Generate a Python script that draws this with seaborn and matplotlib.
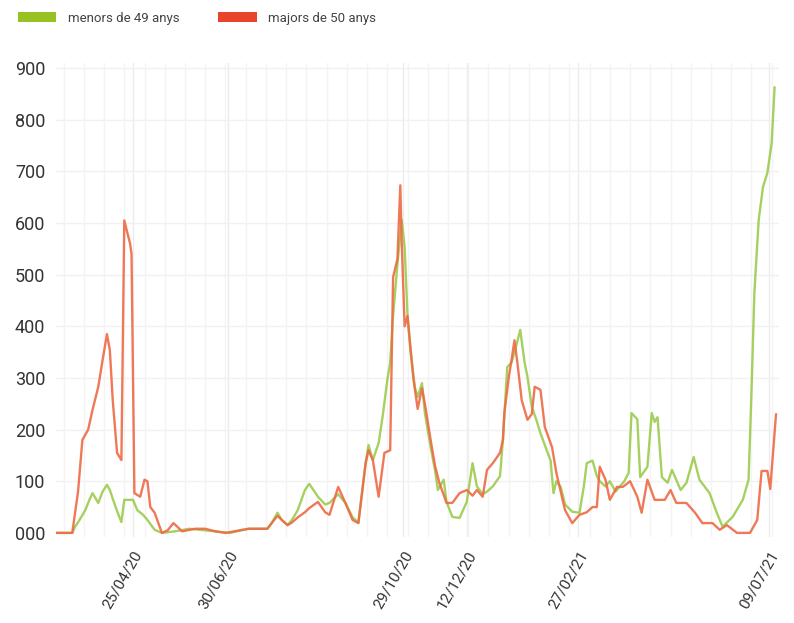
import matplotlib
matplotlib.use("Agg")
import matplotlib.pyplot as plt
import matplotlib.dates as mdates
from matplotlib.patches import Patch
import pandas as pd
import seaborn as sns

menors_dates = [
    "2020-03-03", "2020-03-14", "2020-03-16", "2020-03-19", "2020-03-23", "2020-03-26", "2020-03-28",
    "2020-04-01", "2020-04-04", "2020-04-07", "2020-04-09", "2020-04-13", "2020-04-15", "2020-04-17",
    "2020-04-19", "2020-04-25", "2020-04-28", "2020-05-02", "2020-05-05", "2020-05-10", "2020-05-15",
    "2020-05-24", "2020-06-03", "2020-06-14", "2020-06-21", "2020-07-01", "2020-07-14", "2020-07-27",
    "2020-07-30", "2020-08-03", "2020-08-06", "2020-08-10", "2020-08-13", "2020-08-17", "2020-08-22",
    "2020-08-25", "2020-08-31", "2020-09-05", "2020-09-08", "2020-09-14", "2020-09-19", "2020-09-24",
    "2020-09-28", "2020-10-03", "2020-10-05", "2020-10-08", "2020-10-12", "2020-10-15", "2020-10-18",
    "2020-10-20", "2020-10-22", "2020-10-25", "2020-10-28", "2020-10-30", "2020-11-01", "2020-11-03",
    "2020-11-06", "2020-11-08", "2020-11-11", "2020-11-13", "2020-11-17", "2020-11-20", "2020-11-22",
    "2020-11-26", "2020-11-28", "2020-12-02", "2020-12-07", "2020-12-12", "2020-12-16", "2020-12-19",
    "2020-12-23", "2020-12-26", "2020-12-30", "2021-01-04", "2021-01-06", "2021-01-09", "2021-01-12",
    "2021-01-15", "2021-01-18", "2021-01-21", "2021-01-23", "2021-01-26", "2021-01-29", "2021-02-01",
    "2021-02-04", "2021-02-08", "2021-02-10", "2021-02-12", "2021-02-15", "2021-02-18", "2021-02-23",
    "2021-02-28", "2021-03-03", "2021-03-05", "2021-03-09", "2021-03-12", "2021-03-14", "2021-03-18",
    "2021-03-21", "2021-03-25", "2021-03-28", "2021-03-31", "2021-04-03", "2021-04-05", "2021-04-09",
    "2021-04-11", "2021-04-16", "2021-04-19", "2021-04-21", "2021-04-23", "2021-04-26", "2021-04-30",
    "2021-05-03", "2021-05-09", "2021-05-13", "2021-05-18", "2021-05-22", "2021-05-29", "2021-06-03",
    "2021-06-07", "2021-06-14", "2021-06-21", "2021-06-25", "2021-06-27", "2021-06-29", "2021-07-02",
    "2021-07-05", "2021-07-08", "2021-07-11", "2021-07-13",
]
menors = [
    0, 0, 12, 25, 44, 65, 77,
    58, 80, 93, 83, 50, 35, 21,
    64, 64, 44, 35, 25, 6, 0,
    3, 8, 5, 3, 0, 8, 8,
    19, 39, 25, 15, 25, 44, 83,
    95, 70, 55, 58, 75, 58, 30,
    20, 135, 170, 141, 174, 230, 296,
    330, 420, 520, 606, 553, 420, 354,
    283, 263, 290, 232, 166, 122, 83,
    103, 60, 31, 29, 60, 135, 90,
    75, 80, 90, 110, 180, 321, 330,
    360, 393, 330, 302, 244, 220, 193,
    170, 140, 77, 100, 89, 55, 41,
    39, 90, 135, 140, 110, 100, 90,
    100, 80, 90, 100, 116, 232, 220,
    108, 128, 232, 215, 224, 108, 97,
    122, 83, 97, 147, 103, 77, 39,
    12, 31, 64, 103, 271, 464, 606,
    670, 697, 755, 863,
]

majors_dates = [
    "2020-03-03", "2020-03-14", "2020-03-18", "2020-03-21", "2020-03-25", "2020-03-28", "2020-04-01",
    "2020-04-04", "2020-04-07", "2020-04-09", "2020-04-11", "2020-04-14", "2020-04-17", "2020-04-19",
    "2020-04-23", "2020-04-24", "2020-04-26", "2020-04-30", "2020-05-03", "2020-05-05", "2020-05-07",
    "2020-05-10", "2020-05-15", "2020-05-19", "2020-05-23", "2020-05-29", "2020-06-07", "2020-06-14",
    "2020-06-21", "2020-06-28", "2020-07-14", "2020-07-27", "2020-07-30", "2020-08-03", "2020-08-06",
    "2020-08-10", "2020-08-13", "2020-08-17", "2020-08-22", "2020-08-25", "2020-08-31", "2020-09-05",
    "2020-09-08", "2020-09-14", "2020-09-19", "2020-09-24", "2020-09-28", "2020-10-03", "2020-10-05",
    "2020-10-08", "2020-10-12", "2020-10-16", "2020-10-20", "2020-10-22", "2020-10-25", "2020-10-27",
    "2020-10-28", "2020-10-30", "2020-11-01", "2020-11-05", "2020-11-08", "2020-11-11", "2020-11-13",
    "2020-11-17", "2020-11-20", "2020-11-23", "2020-11-28", "2020-12-02", "2020-12-07", "2020-12-12",
    "2020-12-16", "2020-12-19", "2020-12-23", "2020-12-26", "2020-12-30", "2021-01-04", "2021-01-06",
    "2021-01-07", "2021-01-10", "2021-01-12", "2021-01-14", "2021-01-16", "2021-01-19", "2021-01-23",
    "2021-01-26", "2021-01-28", "2021-02-01", "2021-02-04", "2021-02-09", "2021-02-12", "2021-02-18",
    "2021-02-23", "2021-02-28", "2021-03-05", "2021-03-09", "2021-03-12", "2021-03-14", "2021-03-18",
    "2021-03-21", "2021-03-26", "2021-03-30", "2021-04-04", "2021-04-09", "2021-04-12", "2021-04-16",
    "2021-04-21", "2021-04-28", "2021-05-02", "2021-05-06", "2021-05-13", "2021-05-19", "2021-05-24",
    "2021-05-31", "2021-06-05", "2021-06-10", "2021-06-17", "2021-06-26", "2021-07-01", "2021-07-04",
    "2021-07-08", "2021-07-10", "2021-07-14",
]
majors = [
    0, 0, 80, 180, 200, 238, 283,
    335, 385, 354, 257, 155, 141, 605,
    560, 540, 77, 70, 103, 100, 50,
    39, 0, 5, 19, 3, 8, 8,
    3, 0, 8, 8, 19, 33, 25,
    15, 20, 30, 40, 48, 60, 40,
    35, 89, 58, 25, 19, 135, 160,
    141, 70, 155, 160, 495, 530, 673,
    560, 400, 420, 300, 240, 280, 250,
    180, 130, 97, 58, 58, 77, 83,
    72, 83, 70, 122, 135, 155, 180,
    232, 300, 335, 373, 330, 257, 219,
    230, 283, 277, 205, 166, 116, 44,
    19, 35, 40, 50, 50, 128, 103,
    64, 89, 89, 100, 70, 39, 103,
    64, 64, 83, 58, 58, 39, 19,
    19, 6, 15, 0, 0, 25, 120,
    120, 85, 230,
]

series_labels = ["menors de 49 anys", "majors de 50 anys"]
series_colors = ["#97C221", "#E8432B"]
line_colors = ["#9CCB4E", "#EE6A45"]
tick_dates = ["2020-04-25", "2020-06-30", "2020-10-29", "2020-12-12", "2021-02-27", "2021-07-09"]
y_ticks = [0, 100, 200, 300, 400, 500, 600, 700, 800, 900]
y_tick_labels = ["000", "100", "200", "300", "400", "500", "600", "700", "800", "900"]

df = pd.concat([
    pd.DataFrame({"data": pd.to_datetime(menors_dates), "valor": menors, "grup": series_labels[0]}),
    pd.DataFrame({"data": pd.to_datetime(majors_dates), "valor": majors, "grup": series_labels[1]}),
], ignore_index=True)

sns.set_theme(style="white")
plt.rcParams["font.family"] = ["Roboto", "DejaVu Sans"]

fig = plt.figure(figsize=(7.94, 6.23), dpi=100)
ax = fig.add_axes([0.071, 0.138, 0.910, 0.761])

# faint background grid
ax.set_axisbelow(True)
for d in pd.date_range("2020-03-08", "2021-07-16", freq="14D"):
    ax.axvline(d, color="#f4f4f4", lw=1.0, zorder=0)
for d in tick_dates:
    ax.axvline(pd.Timestamp(d), color="#ececec", lw=1.0, zorder=0)
for y in y_ticks[1:]:
    ax.axhline(y, color="#f1f1f1", lw=1.0, zorder=0)

sns.lineplot(data=df, x="data", y="valor", hue="grup", palette=dict(zip(series_labels, line_colors)),
             estimator=None, linewidth=1.7, alpha=0.9, legend=False, ax=ax)

ax.set_xlim(pd.Timestamp("2020-03-03"), pd.Timestamp("2021-07-16"))
ax.set_ylim(-8, 910)
ax.set_yticks(y_ticks)
ax.set_yticklabels(y_tick_labels, fontsize=13, color="#333333")
ax.set_xticks([pd.Timestamp(d) for d in tick_dates])
ax.xaxis.set_major_formatter(mdates.DateFormatter("%d/%m/%y"))
for lab in ax.get_xticklabels():
    lab.set_rotation(60)
    lab.set_ha("right")
    lab.set_rotation_mode("anchor")
    lab.set_fontsize(11)
    lab.set_color("#333333")
ax.tick_params(axis="y", length=0, pad=8)
ax.tick_params(axis="x", length=0, pad=8)
ax.set_xlabel("")
ax.set_ylabel("")
for s in ax.spines.values():
    s.set_visible(False)

handles = [Patch(facecolor=c, edgecolor="none") for c in series_colors]
fig.legend(handles, series_labels, loc="upper left", bbox_to_anchor=(0.008, 1.0), ncol=2,
           frameon=False, handlelength=2.9, handleheight=0.8, columnspacing=2.9,
           handletextpad=0.9, prop={"size": 9.5}, labelcolor="#444444")

fig.savefig("out.png", dpi=100)
